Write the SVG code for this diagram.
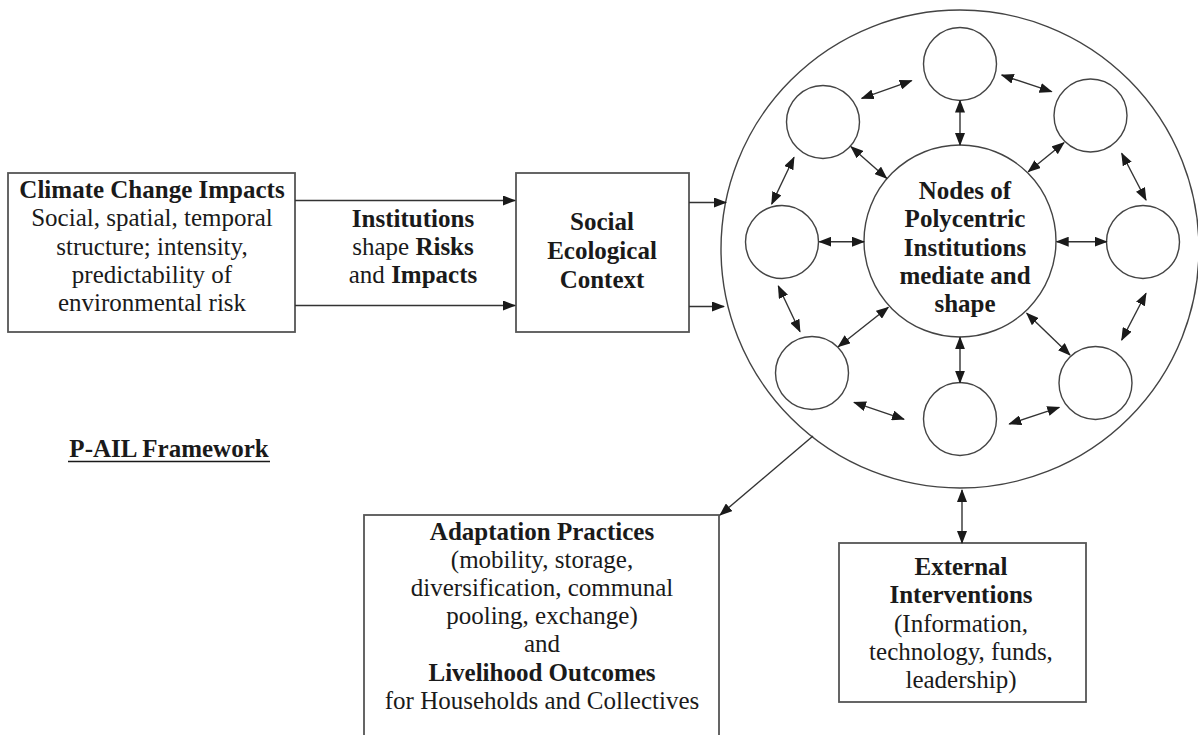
<svg xmlns="http://www.w3.org/2000/svg" width="1198" height="735" viewBox="0 0 1198 735">
<style>
.box{fill:#fff;stroke:#555;stroke-width:1.8}
.circ{fill:#fff;stroke:#444;stroke-width:1.4}
.t{font-family:"Liberation Serif","Times New Roman",serif;font-size:25px;fill:#1a1a1a;text-anchor:middle}
.b{font-weight:bold}
.ln{stroke:#333;stroke-width:1.4;fill:none}
.one{marker-end:url(#ah)}
.two{marker-start:url(#ah);marker-end:url(#ah)}
</style>
<defs>
<marker id="ah" markerUnits="userSpaceOnUse" markerWidth="13" markerHeight="10" refX="12" refY="5" orient="auto-start-reverse">
<path d="M0,0 L13,5 L0,10 z" fill="#1a1a1a"/>
</marker>
</defs>
<rect width="1198" height="735" fill="#fff"/>

<g id="climate">
<rect class="box" x="8" y="173" width="287" height="159"/>
<text class="t" x="152" y="198"><tspan class="b">Climate Change Impacts</tspan><tspan x="152" dy="28.3">Social, spatial, temporal</tspan><tspan x="152" dy="28.3">structure; intensity,</tspan><tspan x="152" dy="28.3">predictability of</tspan><tspan x="152" dy="28.3">environmental risk</tspan></text>
</g>

<g id="institutions-label">
<text class="t" x="413" y="227"><tspan class="b">Institutions</tspan><tspan x="413" dy="28">shape <tspan class="b">Risks</tspan></tspan><tspan x="413" dy="28">and <tspan class="b">Impacts</tspan></tspan></text>
</g>

<g id="context">
<rect class="box" x="516" y="173" width="173" height="159"/>
<text class="t b" x="602" y="230">Social<tspan x="602" dy="29">Ecological</tspan><tspan x="602" dy="29">Context</tspan></text>
</g>

<g id="polycentric">
<circle class="circ" cx="960" cy="249" r="239"/>
<g id="hub">
<circle class="circ" cx="960" cy="241" r="96"/>
<text class="t b" x="965" y="199">Nodes of<tspan x="965" dy="28.3">Polycentric</tspan><tspan x="965" dy="28.3">Institutions</tspan><tspan x="965" dy="28.3">mediate and</tspan><tspan x="965" dy="28.3">shape</tspan></text>
</g>
<circle id="node-n" class="circ" cx="960" cy="64" r="36.5"/>
<circle id="node-ne" class="circ" cx="1090.5" cy="115.5" r="36.5"/>
<circle id="node-e" class="circ" cx="1143" cy="242" r="36.5"/>
<circle id="node-se" class="circ" cx="1095.5" cy="383" r="36.5"/>
<circle id="node-s" class="circ" cx="960" cy="419" r="36.5"/>
<circle id="node-sw" class="circ" cx="812" cy="373" r="36.5"/>
<circle id="node-w" class="circ" cx="782" cy="242" r="36.5"/>
<circle id="node-nw" class="circ" cx="823" cy="122" r="36.5"/>
</g>

<g id="adaptation">
<rect class="box" x="364" y="515" width="355" height="240"/>
<text class="t" x="542" y="540"><tspan class="b">Adaptation Practices</tspan><tspan x="542" dy="28.1">(mobility, storage,</tspan><tspan x="542" dy="28.1">diversification, communal</tspan><tspan x="542" dy="28.1">pooling, exchange)</tspan><tspan x="542" dy="28.1">and</tspan><tspan x="542" dy="28.1" class="b">Livelihood Outcomes</tspan><tspan x="542" dy="28.1">for Households and Collectives</tspan></text>
</g>

<g id="external">
<rect class="box" x="839" y="543" width="247" height="159"/>
<text class="t" x="961" y="575"><tspan class="b">External</tspan><tspan x="961" dy="28.3" class="b">Interventions</tspan><tspan x="961" dy="28.3">(Information,</tspan><tspan x="961" dy="28.3">technology, funds,</tspan><tspan x="961" dy="28.3">leadership)</tspan></text>
</g>

<g id="title">
<text class="t b" x="169" y="457">P-AIL Framework</text>
<line x1="68" y1="461.5" x2="270" y2="461.5" stroke="#1a1a1a" stroke-width="1.5"/>
</g>

<g id="connectors">
<line class="ln one" x1="295" y1="200.5" x2="515" y2="200.5"/>
<line class="ln one" x1="295" y1="305.5" x2="515" y2="305.5"/>
<line class="ln one" x1="689" y1="202.5" x2="726" y2="202.5"/>
<line class="ln one" x1="689" y1="306.5" x2="724" y2="306.5"/>
<line class="ln one" x1="813" y1="436" x2="720" y2="515"/>
<line class="ln two" x1="962" y1="490" x2="962" y2="543"/>
<!-- hub spokes -->
<line class="ln two" x1="960" y1="100.5" x2="960" y2="145"/>
<line class="ln two" x1="1064" y1="142.7" x2="1028.3" y2="171.7"/>
<line class="ln two" x1="1056.7" y1="241.7" x2="1106.7" y2="241.7"/>
<line class="ln two" x1="1026.7" y1="313.3" x2="1070" y2="355"/>
<line class="ln two" x1="960" y1="337.3" x2="960" y2="382.7"/>
<line class="ln two" x1="888.3" y1="307.3" x2="838.3" y2="346.7"/>
<line class="ln two" x1="819.3" y1="241.7" x2="864" y2="241.7"/>
<line class="ln two" x1="851" y1="146.7" x2="886.7" y2="178.3"/>
<!-- ring -->
<line class="ln two" x1="861.7" y1="98.3" x2="911.7" y2="80.7"/>
<line class="ln two" x1="1001.7" y1="75" x2="1051.7" y2="91.7"/>
<line class="ln two" x1="1121.7" y1="153.3" x2="1146" y2="200"/>
<line class="ln two" x1="1146" y1="293.3" x2="1121.7" y2="340"/>
<line class="ln two" x1="1059.3" y1="407.3" x2="1009.3" y2="424"/>
<line class="ln two" x1="904" y1="419.3" x2="854" y2="402.3"/>
<line class="ln two" x1="800" y1="331.7" x2="778.3" y2="286"/>
<line class="ln two" x1="771.7" y1="204" x2="794" y2="157.3"/>
</g>
</svg>
